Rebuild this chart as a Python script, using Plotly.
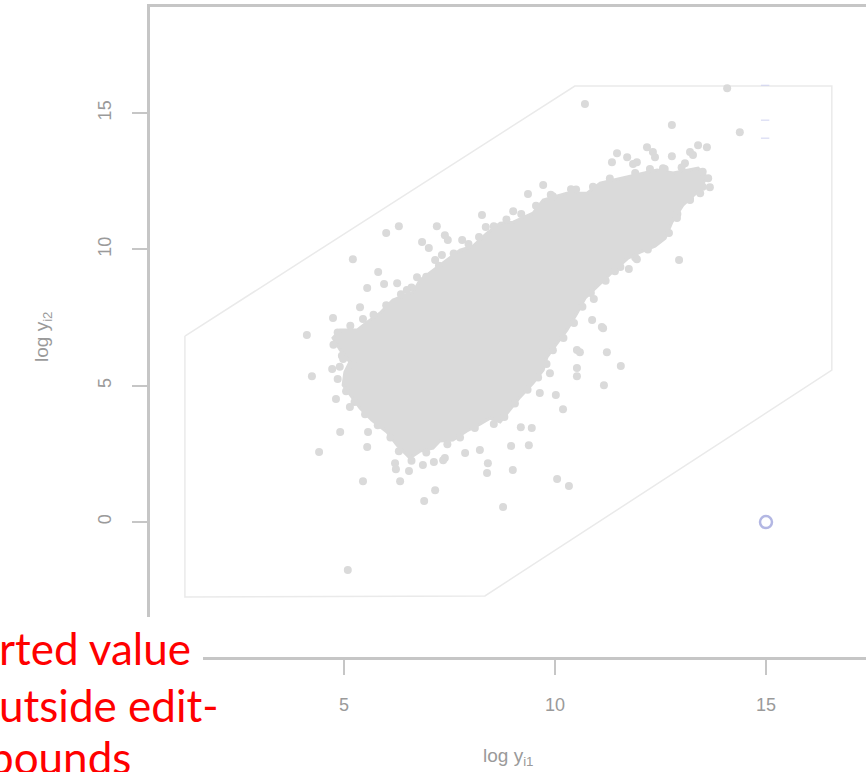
import plotly.graph_objects as go

# ---------------- data ----------------
# edit-bounds region (hexagon)
region_x = [1.23, 1.23, 8.34, 16.56, 16.56, 10.47, 1.23]
region_y = [6.82, -2.75, -2.71, 5.57, 15.99, 15.99, 6.82]

# outline of the dense core of the point cloud
core_x = [6.56, 6.26, 6.02, 5.66, 5.38, 5.19, 4.98, 5.02, 5.14, 4.91, 4.74, 4.91, 5.31, 5.55,
          5.85, 6.16, 6.64, 6.80, 7.11, 7.44, 7.75, 8.06, 8.39, 8.70, 9.01, 9.48, 9.72, 10.28,
          10.76, 11.07, 11.71, 12.09, 12.42, 12.80, 13.13, 13.39, 13.60, 13.37, 13.03, 12.77,
          12.61, 12.37, 12.02, 11.73, 11.36, 11.00, 10.71, 10.52, 10.28, 10.05, 9.81, 9.72,
          9.48, 9.17, 8.93, 8.70, 8.46, 8.22, 7.91, 7.58, 7.27, 7.11, 6.80]
core_y = [2.35, 2.82, 3.30, 3.74, 4.18, 4.58, 5.02, 5.50, 5.87, 6.31, 6.75, 7.04, 7.04, 7.33,
          7.66, 8.14, 8.43, 8.87, 9.24, 9.61, 9.97, 10.12, 10.60, 10.96, 11.00, 11.33, 11.81, 12.06,
          12.06, 12.43, 12.65, 12.80, 12.91, 12.80, 12.91, 12.98, 12.65, 12.10, 11.62, 11.00,
          10.41, 10.12, 9.90, 9.68, 9.17, 8.62, 8.21, 7.66, 7.04, 6.56, 6.05, 5.57,
          5.10, 4.58, 4.11, 3.67, 3.81, 3.59, 3.34, 3.01, 2.97, 2.71, 2.60]

# observations lying on the ragged rim of the dense core
rim_x = [4.85, 5.15, 5.45, 5.70, 6.00, 6.35, 6.60, 6.95, 7.25, 7.60, 7.95, 8.20, 8.55, 8.85,
         9.20, 9.55, 9.90, 10.50, 10.90, 11.30, 11.90, 12.25, 12.60, 13.00, 13.50,
         13.50, 13.20, 12.90, 12.70, 12.20, 11.90, 11.55, 11.20, 10.85, 10.65, 10.45, 10.20,
         9.95, 9.80, 9.60, 9.35, 9.05, 8.80, 8.55, 8.10, 7.75, 7.45, 6.95, 6.60, 6.30,
         6.10, 5.80, 5.50, 5.25, 5.05, 4.85, 4.90, 4.95, 4.75]
rim_y = [6.95, 7.20, 7.45, 7.60, 7.95, 8.35, 8.60, 9.00, 9.40, 9.85, 10.20, 10.45, 10.85, 11.10,
         11.30, 11.60, 12.00, 12.20, 12.30, 12.60, 12.80, 12.95, 12.95, 13.00, 12.85,
         12.30, 11.85, 11.30, 10.60, 10.00, 9.70, 9.35, 8.85, 8.40, 7.90, 7.30, 6.75,
         6.30, 5.80, 5.30, 4.85, 4.35, 3.85, 3.60, 3.45, 3.10, 2.85, 2.55, 2.25, 2.60,
         3.10, 3.55, 3.95, 4.40, 4.80, 5.25, 5.70, 6.10, 6.50]

# scattered observations around the core
pts_x = [8.27, 8.36, 7.20, 6.30, 6.00, 6.85, 7.01, 7.39, 7.46, 7.80, 5.21, 5.81, 5.95, 5.55, 6.26,
         5.38, 4.74, 7.32, 7.16, 6.73, 6.49,
         10.71, 12.77, 14.08, 14.38, 11.47, 11.71, 11.35, 11.85, 11.94, 12.18, 12.32, 12.37, 12.77,
         12.56, 13.08, 13.20, 13.39, 13.60, 13.27, 13.63, 13.67, 13.44, 13.20, 12.89, 12.94, 11.94,
         11.75, 11.42, 10.92, 10.88, 11.11, 9.01, 9.36, 9.72, 9.95, 10.38,
         9.88, 10.52, 10.59, 11.23, 11.56, 10.52, 10.52, 11.16, 9.64, 10.02, 10.19, 9.19, 9.45,
         8.96, 9.38, 9.00, 10.05, 10.33, 8.77,
         11.14, 7.87, 8.22, 8.41, 8.39, 7.35,
         4.12, 4.24, 4.72, 4.98, 5.21, 4.81, 5.14, 4.91, 4.41, 5.55, 5.57, 6.21, 6.23, 6.54, 6.87,
         7.13, 7.39, 5.45, 6.33, 7.16, 6.90, 5.09]
pts_y = [11.26, 10.82, 10.85, 10.85, 10.60, 10.27, 10.05, 10.52, 10.34, 10.34, 9.64, 9.17, 8.73,
         8.58, 8.76, 7.88, 7.48, 9.79, 9.61, 8.98, 8.51,
         15.33, 14.56, 15.91, 14.30, 13.53, 13.38, 13.20, 13.13, 13.20, 13.75, 13.57, 13.38, 13.42,
         12.98, 13.16, 13.57, 13.82, 13.75, 13.46, 12.61, 12.28, 12.06, 11.81, 11.15, 9.61, 9.64,
         9.28, 9.20, 8.18, 7.41, 7.15, 11.40, 12.03, 12.36, 11.95, 12.21,
         5.46, 6.31, 6.23, 6.23, 5.72, 5.65, 5.35, 5.02, 4.73, 4.66, 4.14, 3.48, 3.45,
         2.79, 2.82, 1.91, 1.58, 1.32, 0.55,
         7.11, 2.53, 2.64, 2.16, 1.80, 2.27,
         6.86, 5.35, 5.61, 5.98, 5.76, 4.51, 4.22, 3.30, 2.57, 2.75, 3.30, 2.16, 1.94, 1.87, 2.09,
         2.20, 2.35, 1.50, 1.50, 1.17, 0.77, -1.76]

# the imputed value (outside the edit bounds)
imp_x = [15.0]
imp_y = [0.0]

# faint leftover marks in the top right
mark_x = [14.98, 14.98, 14.98]
mark_y = [16.02, 14.74, 14.08]

x_ticks = [5, 10, 15]
y_ticks = [0, 5, 10, 15]
x_range = [0.403, 17.37]
y_range = [-4.95, 18.89]

note_lines = ["rted value", "utside edit-", "bounds"]

# ---------------- figure ----------------
W, H = 866, 772
ML, MR, MT, MB = 150, 0, 7, 115
PW, PH = W - ML - MR, H - MT - MB

def px2paper_x(px):
    return (px - ML) / PW

def px2paper_y(py):
    return (H - MB - py) / PH

pt_color = "#DADADA"
axis_col = "#C6C6C6"
txt_col = "#9A9A9A"
blue = "#B3B7E3"

fig = go.Figure()

fig.add_trace(go.Scatter(x=region_x, y=region_y, mode="lines",
                         line=dict(color="#EAEAEA", width=1.5),
                         hoverinfo="skip", showlegend=False))

fig.add_trace(go.Scatter(x=core_x + core_x[:1], y=core_y + core_y[:1], mode="lines",
                         fill="toself", fillcolor=pt_color,
                         line=dict(color=pt_color, width=3),
                         hoverinfo="skip", showlegend=False))

fig.add_trace(go.Scatter(x=rim_x, y=rim_y, mode="markers",
                         marker=dict(color=pt_color, size=8, line=dict(width=0)),
                         hoverinfo="skip", showlegend=False))

fig.add_trace(go.Scatter(x=pts_x, y=pts_y, mode="markers",
                         marker=dict(color=pt_color, size=8, line=dict(width=0)),
                         hoverinfo="skip", showlegend=False))

fig.add_trace(go.Scatter(x=mark_x, y=mark_y, mode="markers",
                         marker=dict(symbol="line-ew", size=6, color="#CFD2F0",
                                     line=dict(color="#CFD2F0", width=1)),
                         hoverinfo="skip", showlegend=False))

fig.add_trace(go.Scatter(x=imp_x, y=imp_y, mode="markers",
                         marker=dict(symbol="circle-open", size=12, color=blue,
                                     line=dict(color=blue, width=2.5)),
                         hoverinfo="skip", showlegend=False))

tickfont = dict(family="Liberation Sans, Arial, sans-serif", size=18, color=txt_col)

fig.update_xaxes(range=x_range, tickvals=x_ticks, ticktext=[str(v) for v in x_ticks],
                 showgrid=False, zeroline=False, showline=True, linecolor=axis_col,
                 linewidth=3, mirror=True, ticks="outside", ticklen=15, tickwidth=2,
                 tickcolor=axis_col, tickfont=tickfont, ticklabelstandoff=14)
fig.update_yaxes(range=y_range, tickvals=y_ticks, ticktext=[str(v) for v in y_ticks],
                 showgrid=False, zeroline=False, showline=True, linecolor=axis_col,
                 linewidth=3, mirror=False, ticks="outside", ticklen=15, tickwidth=2,
                 tickcolor=axis_col, tickfont=tickfont, tickangle=-90, ticklabelstandoff=14)

title_font = dict(family="Liberation Sans, Arial, sans-serif", size=19, color=txt_col)
annotations = [
    dict(text="log y<sub>i1</sub>", xref="paper", yref="paper",
         x=px2paper_x(508), y=px2paper_y(757), xanchor="center", yanchor="middle",
         showarrow=False, font=title_font),
    dict(text="log y<sub>i2</sub>", xref="paper", yref="paper", textangle=-90,
         x=px2paper_x(43), y=px2paper_y(337), xanchor="center", yanchor="middle",
         showarrow=False, font=title_font),
]
note_left = [-3, -3, -13]
note_mid = [648, 705, 757]
for line, lx, my in zip(note_lines, note_left, note_mid):
    annotations.append(dict(text=line, xref="paper", yref="paper",
                            x=px2paper_x(lx), y=px2paper_y(my),
                            xanchor="left", yanchor="middle", showarrow=False,
                            font=dict(family="Lato, Carlito, sans-serif", size=44,
                                      color="#FF0000")))

shapes = [dict(type="rect", xref="paper", yref="paper", layer="above",
               x0=px2paper_x(-20), x1=px2paper_x(203),
               y0=px2paper_y(790), y1=px2paper_y(617),
               fillcolor="white", line=dict(width=0))]

fig.update_layout(width=W, height=H, autosize=False,
                  margin=dict(l=ML, r=MR, t=MT, b=MB, pad=0),
                  paper_bgcolor="white", plot_bgcolor="white",
                  annotations=annotations, shapes=shapes, showlegend=False)

fig.write_html("out.html")
